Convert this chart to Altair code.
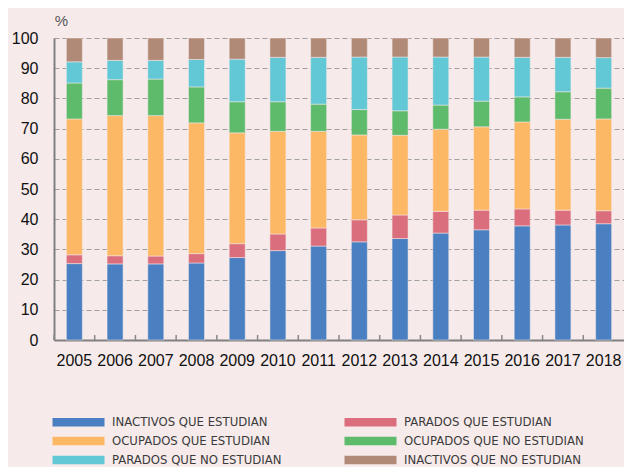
import altair as alt
import pandas as pd

years = [str(y) for y in range(2005, 2019)]
inactivos_estudian = [25.3, 25.2, 25.2, 25.5, 27.3, 29.6, 31.1, 32.5, 33.6, 35.4, 36.5, 37.8, 38.1, 38.5]
parados_estudian = [2.9, 2.7, 2.6, 3.1, 4.6, 5.5, 6.0, 7.3, 7.8, 7.2, 6.5, 5.6, 4.9, 4.3]
ocupados_estudian = [45.0, 46.4, 46.5, 43.3, 36.7, 34.0, 32.0, 28.1, 26.4, 27.2, 27.6, 28.8, 30.1, 30.4]
ocupados_no_estudian = [11.9, 11.9, 12.1, 11.9, 10.3, 9.8, 9.0, 8.4, 8.1, 8.0, 8.5, 8.3, 9.1, 10.2]
parados_no_estudian = [7.0, 6.4, 6.2, 9.1, 14.1, 14.7, 15.5, 17.4, 17.8, 15.9, 14.6, 13.1, 11.4, 10.1]
inactivos_no_estudian = [7.9, 7.4, 7.4, 7.1, 7.0, 6.4, 6.4, 6.3, 6.3, 6.3, 6.3, 6.4, 6.4, 6.5]

series = [
    "INACTIVOS QUE ESTUDIAN",
    "PARADOS QUE ESTUDIAN",
    "OCUPADOS QUE ESTUDIAN",
    "OCUPADOS QUE NO ESTUDIAN",
    "PARADOS QUE NO ESTUDIAN",
    "INACTIVOS QUE NO ESTUDIAN",
]
colors = ["#4A80C1", "#DB6E7D", "#FDB866", "#5DBB6B", "#62C8D5", "#B08A77"]
values = [inactivos_estudian, parados_estudian, ocupados_estudian,
          ocupados_no_estudian, parados_no_estudian, inactivos_no_estudian]

# legend fills column by column: left column first, then right column
legend_order = [series[0], series[2], series[4], series[1], series[3], series[5]]

rows = []
for i, (s, vals) in enumerate(zip(series, values)):
    for y, v in zip(years, vals):
        rows.append({"year": y, "serie": s, "value": v, "idx": i})
df = pd.DataFrame(rows)

W, H = 570, 302

x_enc = alt.X(
    "year:N",
    sort=years,
    scale=alt.Scale(paddingInner=0, paddingOuter=0),
    axis=alt.Axis(
        title=None, labelAngle=0, ticks=False, labelPadding=12,
        labelFont="Liberation Sans", labelFontSize=16, labelColor="#111111",
        domainColor="#808080", domainWidth=2, grid=False,
    ),
)

bars = alt.Chart(df).mark_bar(size=16, stroke="#F6EAEA", strokeWidth=0.5).encode(
    x=x_enc,
    y=alt.Y(
        "value:Q",
        stack="zero",
        scale=alt.Scale(domain=[0, 100], nice=False),
        axis=alt.Axis(
            values=list(range(0, 101, 10)), grid=True, gridDash=[5, 3],
            gridColor="#a0a0a0", gridWidth=1, domainColor="#808080", domainWidth=2,
            ticks=False, labelPadding=16, labelFont="Liberation Sans",
            labelFontSize=16, labelColor="#111111",
            title="%", titleAngle=0, titleX=7, titleY=-18, titleFontSize=15,
            titleFontWeight="normal", titleColor="#555555", titleAlign="center",
            titleBaseline="middle", titleFont="Liberation Sans",
        ),
    ),
    color=alt.Color(
        "serie:N",
        scale=alt.Scale(domain=series, range=colors),
        legend=alt.Legend(
            title=None, orient="none", legendX=-4, legendY=377.5, columns=2,
            values=legend_order,
            symbolType="M-1,-1.09L12,-1.09L12,1.09L-1,1.09Z", symbolSize=64,
            symbolStrokeWidth=0, labelOffset=49, columnPadding=60, rowPadding=5,
            labelFont="Liberation Sans Narrow, DejaVu Sans Condensed, Liberation Sans",
            labelFontSize=13, labelColor="#3a3a3a", padding=0, labelLimit=400,
        ),
    ),
    order=alt.Order("idx:Q"),
)

ticks = alt.Chart(pd.DataFrame({"year": years})).mark_rule(
    color="#888888", strokeWidth=1.5
).encode(
    x=alt.X("year:N", sort=years, bandPosition=0),
    y=alt.value(H - 5),
    y2=alt.value(H),
)

chart = alt.layer(bars, ticks).properties(
    width=W, height=H,
    background="#F6EAEA",
    padding={"left": 46, "top": 30, "right": 0, "bottom": 127},
    autosize=alt.AutoSizeParams(type="none"),
).configure_view(stroke=None)

chart.save("out.html", embed_options={"renderer": "svg", "actions": False})
